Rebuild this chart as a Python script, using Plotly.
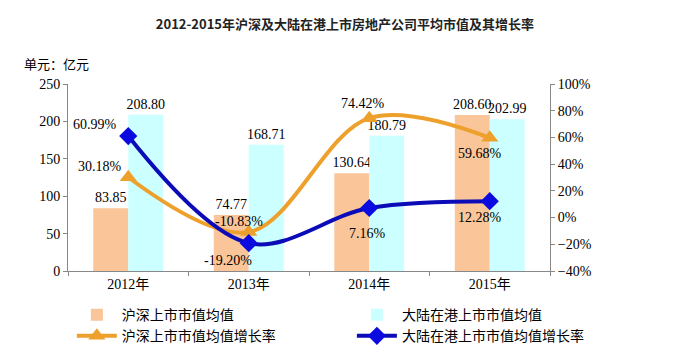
import plotly.graph_objects as go

years = ["2012年", "2013年", "2014年", "2015年"]
hs_value = [83.85, 74.77, 130.64, 208.60]
hk_value = [208.80, 168.71, 180.79, 202.99]
hs_growth = [30.18, -10.83, 74.42, 59.68]
hk_growth = [60.99, -19.20, 7.16, 12.28]

# label offsets (pixels) relative to each point
hs_label_shift = [(-28, 11), (-10, 11), (-6, 15), (-10, -16)]
hk_label_shift = [(-33, 12), (-21, -17), (-2, -25), (-10, -16)]

serif = "Liberation Serif, Noto Sans CJK SC"
cjk = "Noto Sans CJK SC"

fig = go.Figure()
fig.add_trace(go.Bar(
    x=years, y=hs_value, name="沪深上市市值均值", legend="legend",
    marker=dict(color="#FAC598", line=dict(width=0)),
    text=[f"{v:.2f}" for v in hs_value], textposition="outside", constraintext="none",
    textfont=dict(family=serif, size=14, color="black"), cliponaxis=False,
))
fig.add_trace(go.Bar(
    x=years, y=hk_value, name="大陆在港上市市值均值", legend="legend2",
    marker=dict(color="#CCFFFF", line=dict(width=0)),
    text=[f"{v:.2f}" for v in hk_value], textposition="outside", constraintext="none",
    textfont=dict(family=serif, size=14, color="black"), cliponaxis=False,
))
fig.add_trace(go.Scatter(
    x=years, y=hs_growth, name="沪深上市市值均值增长率", yaxis="y2", legend="legend",
    mode="lines+markers",
    line=dict(color="#EDA12C", width=4, shape="spline", smoothing=1.0),
    marker=dict(symbol="triangle-up", size=15, color="#EDA12C"),
    cliponaxis=False,
))
fig.add_trace(go.Scatter(
    x=years, y=hk_growth, name="大陆在港上市市值均值增长率", yaxis="y2", legend="legend2",
    mode="lines+markers",
    line=dict(color="#0B0BB8", width=4, shape="spline", smoothing=1.0),
    marker=dict(symbol="diamond", size=14, color="#0B0BE0"),
    cliponaxis=False,
))

annotations = [dict(text="单元：亿元", xref="paper", yref="paper",
                    x=-0.095, y=1.108, xanchor="left", yanchor="middle", showarrow=False,
                    font=dict(family=cjk, size=13, color="black"))]
for vals, shifts in ((hs_growth, hs_label_shift), (hk_growth, hk_label_shift)):
    for yr, v, (dx, dy) in zip(years, vals, shifts):
        annotations.append(dict(text=f"{v:.2f}%", xref="x", yref="y2", x=yr, y=v,
                                xshift=dx, yshift=dy, showarrow=False,
                                xanchor="center", yanchor="middle",
                                font=dict(family=serif, size=14, color="black")))

legend_common = dict(orientation="v", yref="paper", yanchor="top", y=-0.15,
                     xanchor="left",
                     font=dict(family=cjk, size=14, color="black"),
                     tracegroupgap=0, itemwidth=40, traceorder="normal",
                     bgcolor="rgba(0,0,0,0)", borderwidth=0)

axis_common = dict(showline=True, linecolor="#888888", linewidth=1,
                   ticks="outside", ticklen=4, tickcolor="#888888",
                   tickfont=dict(family=serif, size=14, color="black"),
                   showgrid=False, zeroline=False, automargin=False)

fig.update_layout(
    template="none",
    width=679, height=353,
    margin=dict(l=68, r=129, t=84, b=82, autoexpand=False),
    paper_bgcolor="white", plot_bgcolor="white",
    font=dict(family=cjk, color="black"),
    barmode="group", bargap=0.42, bargroupgap=0,
    title=dict(text="<b>2012-2015年沪深及大陆在港上市房地产公司平均市值及其增长率</b>",
               x=0.508, xanchor="center", y=0.93, yanchor="middle",
               font=dict(family=cjk, size=13, color="#222222")),
    xaxis=dict(tickson="boundaries", **axis_common),
    yaxis=dict(range=[0, 250], dtick=50, **axis_common),
    yaxis2=dict(range=[-40, 100], dtick=20, ticksuffix="%", overlaying="y", side="right",
                **axis_common),
    legend=dict(x=0.008, **legend_common),
    legend2=dict(x=0.589, **legend_common),
    showlegend=True,
    annotations=annotations,
)

fig.write_html("out.html")
